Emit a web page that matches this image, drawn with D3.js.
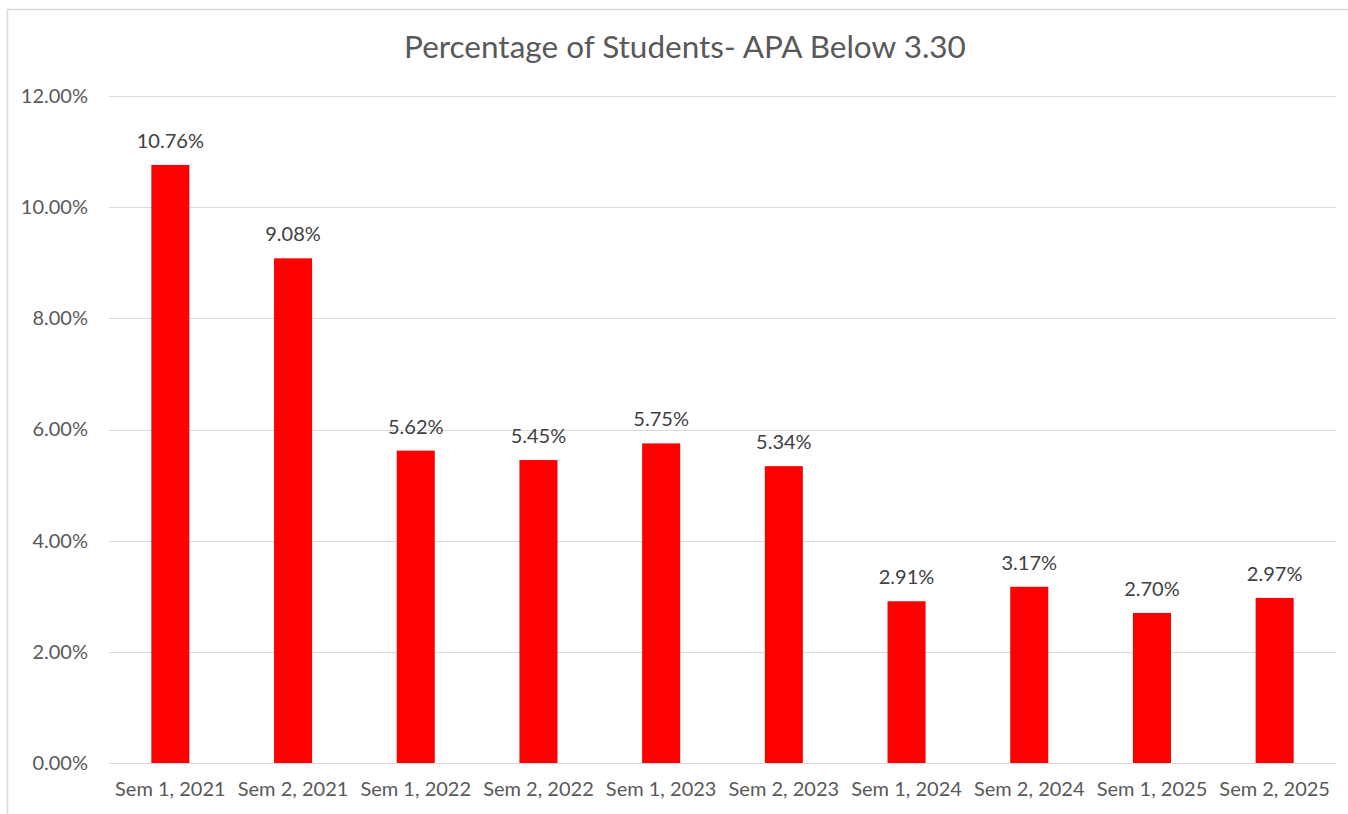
<!DOCTYPE html>
<html>
<head>
<meta charset="utf-8">
<script src="https://cdn.jsdelivr.net/npm/d3@7"></script>
<style>
  html, body { margin: 0; padding: 0; background: #fff; }
  svg { display: block; }
</style>
</head>
<body>
<svg id="chart" width="1348" height="814"></svg>
<script>
// données du graphique
const categories = ['Sem 1, 2021', 'Sem 2, 2021', 'Sem 1, 2022', 'Sem 2, 2022', 'Sem 1, 2023',
  'Sem 2, 2023', 'Sem 1, 2024', 'Sem 2, 2024', 'Sem 1, 2025', 'Sem 2, 2025'];
const values = [10.76, 9.08, 5.62, 5.45, 5.75, 5.34, 2.91, 3.17, 2.70, 2.97];
const yTicks = [0, 2, 4, 6, 8, 10, 12];
const title = 'Percentage of Students- APA Below 3.30';

const svg = d3.select('#chart');
const font = 'Lato, "Open Sans", sans-serif';

const margin = { top: 96, left: 109, right: 12, bottom: 51 };
const width = 1348, height = 814;

// cadre du graphique (seuls bords haut et gauche visibles)
svg.append('rect')
  .attr('x', 7.5).attr('y', 9.5)
  .attr('width', 1400).attr('height', 900)
  .attr('fill', 'none').attr('stroke', '#d9d9d9').attr('stroke-width', 1.5);

const x = d3.scaleBand()
  .domain(categories)
  .range([margin.left, width - margin.right])
  .paddingInner(0.69).paddingOuter(0.345);

const y = d3.scaleLinear()
  .domain([0, 12])
  .range([height - margin.bottom, margin.top]);

// grille
svg.append('g')
  .selectAll('line')
  .data(yTicks)
  .join('line')
  .attr('x1', margin.left).attr('x2', width - margin.right)
  .attr('y1', d => Math.round(y(d)) + 0.5).attr('y2', d => Math.round(y(d)) + 0.5)
  .attr('stroke', '#d9d9d9').attr('stroke-width', 1);

// axe Y
const yAxis = svg.append('g')
  .attr('transform', `translate(${margin.left - 21},0)`)
  .call(d3.axisLeft(y).tickValues(yTicks).tickFormat(d => d.toFixed(2) + '%').tickSize(0).tickPadding(0));
yAxis.select('.domain').remove();
yAxis.selectAll('text')
  .attr('font-family', font).attr('font-size', 20).attr('fill', '#595959');

// barres
svg.append('g')
  .selectAll('rect')
  .data(values)
  .join('rect')
  .attr('x', (d, i) => x(categories[i]))
  .attr('y', d => y(d))
  .attr('width', x.bandwidth())
  .attr('height', d => y(0) - y(d))
  .attr('fill', '#ff0000');

// étiquettes de données
svg.append('g')
  .selectAll('text')
  .data(values)
  .join('text')
  .attr('x', (d, i) => x(categories[i]) + x.bandwidth() / 2)
  .attr('y', d => y(d) - 17)
  .attr('text-anchor', 'middle')
  .attr('font-family', font).attr('font-size', 20).attr('fill', '#404040')
  .text(d => d.toFixed(2) + '%');

// axe X
const xAxis = svg.append('g')
  .attr('transform', `translate(0,${height - margin.bottom})`)
  .call(d3.axisBottom(x).tickSize(0).tickPadding(19));
xAxis.select('.domain').remove();
xAxis.selectAll('text')
  .attr('font-family', font).attr('font-size', 20).attr('fill', '#595959');

// titre
svg.append('text')
  .attr('x', 685)
  .attr('y', 58)
  .attr('text-anchor', 'middle')
  .attr('font-family', font).attr('font-size', 31.5).attr('fill', '#595959')
  .text(title);
</script>
</body>
</html>
